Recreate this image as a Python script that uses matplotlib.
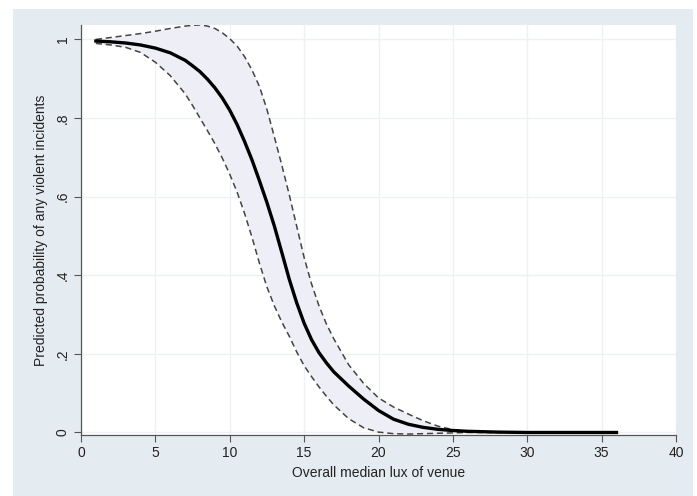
import matplotlib
matplotlib.use("Agg")
import matplotlib.pyplot as plt
import matplotlib.patches as patches

# lux values and predicted probability with 95% CI
lux = [1, 2, 3, 4, 5, 6, 7, 7.5, 8, 8.5, 9, 9.5, 10, 10.5, 11, 11.5, 12, 12.5,
       13, 13.5, 14, 14.5, 15, 15.5, 16, 16.5, 17, 18, 19, 20, 21, 22, 23, 24,
       25, 26, 28, 30, 32, 34, 36]
prob = [0.996, 0.994, 0.991, 0.986, 0.978, 0.966, 0.947, 0.933, 0.918, 0.899,
        0.877, 0.851, 0.820, 0.783, 0.740, 0.693, 0.640, 0.585, 0.525, 0.458,
        0.390, 0.330, 0.278, 0.236, 0.203, 0.177, 0.154, 0.118, 0.085, 0.056,
        0.034, 0.021, 0.013, 0.008, 0.005, 0.003, 0.001, 0.0, 0.0, 0.0, 0.0]
ci_upper = [1.000, 1.005, 1.010, 1.015, 1.021, 1.028, 1.034, 1.036, 1.037, 1.034,
            1.028, 1.017, 1.002, 0.983, 0.956, 0.922, 0.880, 0.822, 0.752, 0.680,
            0.605, 0.525, 0.445, 0.378, 0.322, 0.276, 0.238, 0.172, 0.125, 0.088,
            0.065, 0.047, 0.030, 0.016, 0.007, 0.003, 0.001, 0.0, 0.0, 0.0, 0.0]
ci_lower = [0.990, 0.986, 0.980, 0.967, 0.942, 0.908, 0.862, 0.832, 0.800, 0.768,
            0.735, 0.698, 0.657, 0.611, 0.557, 0.496, 0.430, 0.370, 0.322, 0.281,
            0.245, 0.205, 0.170, 0.142, 0.116, 0.092, 0.070, 0.035, 0.012, 0.001,
            -0.003, -0.004, -0.003, -0.002, -0.001, 0.0, 0.0, 0.0, 0.0, 0.0, 0.0]

xticks = [0, 5, 10, 15, 20, 25, 30, 35, 40]
yticks = [0, 0.2, 0.4, 0.6, 0.8, 1.0]
ytick_labels = ["0", ".2", ".4", ".6", ".8", "1"]

plt.rcParams["font.family"] = ["Liberation Sans", "DejaVu Sans"]

W, H = 697, 496
fig = plt.figure(figsize=(W / 100, H / 100), dpi=100)
fig.patch.set_facecolor("white")

# stata-like graph region background
fig.add_artist(patches.Rectangle((13 / W, 0), (693 - 13) / W, (H - 9) / H,
                                 transform=fig.transFigure, facecolor="#e5ecf1",
                                 edgecolor="none", zorder=0))

ax = fig.add_axes([81 / W, (H - 435) / H, 595 / W, 410 / H])
ax.set_facecolor("white")

ax.fill_between(lux, ci_lower, ci_upper, color="#eeeef6", linewidth=0, zorder=1)
ax.plot(lux, ci_upper, color="#444444", linewidth=1.1, linestyle=(0, (4, 2.5)), zorder=2)
ax.plot(lux, ci_lower, color="#444444", linewidth=1.1, linestyle=(0, (4, 2.5)), zorder=2)
ax.plot(lux, prob, color="black", linewidth=2.4, zorder=3)

ax.set_xlim(0, 40)
ax.set_ylim(-0.0064, 1.0368)
ax.set_xticks(xticks)
ax.set_yticks(yticks)
ax.set_yticklabels(ytick_labels, rotation=90, va="center")

ax.grid(True, color="#edf1f4", linewidth=1.0, zorder=0)
ax.set_axisbelow(True)

for side in ["top", "right"]:
    ax.spines[side].set_visible(False)
for side in ["left", "bottom"]:
    ax.spines[side].set_color("#555555")
    ax.spines[side].set_linewidth(0.9)

ax.tick_params(direction="out", length=5, width=0.8, color="#555555",
               labelsize=10, labelcolor="#222222", pad=3)

ax.set_xlabel("Overall median lux of venue", fontsize=10, color="#222222", labelpad=4)
ax.set_ylabel("Predicted probability of any violent incidents", fontsize=10,
              color="#222222", labelpad=6)

fig.savefig("out.png", dpi=100, facecolor="white")
